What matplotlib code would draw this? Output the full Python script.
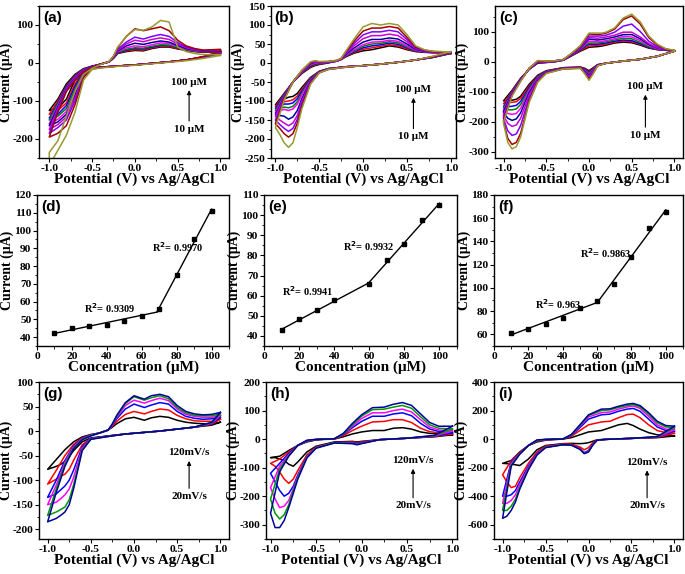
import numpy as np
import matplotlib
matplotlib.use("Agg")
import matplotlib.pyplot as plt
from matplotlib.ticker import AutoMinorLocator, MultipleLocator

plt.rcParams['font.family'] = ['Liberation Serif', 'DejaVu Serif']
plt.rcParams['font.weight'] = 'bold'
plt.rcParams['axes.labelweight'] = 'bold'
plt.rcParams['axes.unicode_minus'] = False

conc_colors = ['#000000', '#ff0000', '#0000ff', '#008000', '#ff00ff',
               '#000099', '#cc00cc', '#8000ff', '#a00000', '#999933']
rate_colors = ['#000000', '#ff0000', '#0000ff', '#ff00ff', '#009900', '#000099']

# ---------------- (a) CV, 10-100 uM ----------------
EU_a = [-1.0, -0.9, -0.8, -0.7, -0.6, -0.5, -0.4, -0.3, -0.25, -0.2, -0.1,
        0.0, 0.1, 0.2, 0.3, 0.4, 0.5, 0.6, 0.7, 0.8, 1.0]
EL_a = [1.0, 0.8, 0.6, 0.4, 0.2, 0.0, -0.2, -0.4, -0.5, -0.6, -0.7, -0.8, -0.9, -1.0]
up_a = [
    [-125, -95, -55, -30, -15, -8, -3, 3, 12, 25, 30, 33, 32, 38, 42, 42, 37, 33, 30, 28, 30],
    [-135, -100, -60, -32, -16, -9, -3, 3, 13, 26, 32, 35, 34, 40, 44, 44, 38, 34, 31, 29, 31],
    [-145, -105, -62, -34, -17, -9, -3, 3, 14, 27, 34, 38, 37, 42, 46, 46, 40, 35, 32, 30, 32],
    [-150, -108, -64, -36, -18, -10, -3, 3, 14, 28, 36, 40, 39, 44, 48, 47, 41, 35, 32, 30, 32],
    [-160, -112, -66, -38, -19, -10, -3, 3, 15, 30, 40, 45, 43, 48, 53, 51, 44, 37, 33, 31, 33],
    [-165, -116, -68, -40, -20, -10, -3, 3, 15, 32, 45, 52, 49, 54, 58, 55, 46, 38, 34, 31, 33],
    [-175, -120, -70, -42, -21, -11, -3, 3, 16, 34, 50, 60, 56, 62, 66, 62, 50, 40, 35, 32, 34],
    [-185, -125, -72, -44, -22, -11, -3, 4, 16, 36, 55, 68, 63, 70, 75, 70, 54, 42, 36, 33, 35],
    [-195, -130, -75, -46, -23, -12, -3, 4, 18, 40, 70, 90, 85, 90, 95, 85, 60, 45, 38, 34, 36],
    [-235, -205, -140, -75, -30, -14, -4, 4, 18, 42, 70, 88, 86, 95, 112, 108, 42, 30, 25, 22, 22],
]
lo_a = [
    [25, 15, 8, 3, -1, -5, -8, -11, -13, -18, -45, -95, -120, -125],
    [26, 15, 8, 3, -1, -5, -8, -11, -13, -20, -55, -105, -125, -135],
    [27, 15, 8, 3, -1, -5, -8, -11, -14, -22, -62, -112, -135, -145],
    [27, 15, 8, 3, -1, -5, -8, -11, -14, -24, -70, -120, -140, -150],
    [28, 16, 8, 3, -1, -5, -8, -11, -14, -26, -78, -128, -148, -160],
    [28, 16, 8, 3, -1, -5, -8, -11, -15, -28, -85, -135, -155, -165],
    [29, 16, 8, 3, -1, -5, -8, -12, -15, -30, -92, -142, -162, -175],
    [30, 16, 8, 3, -1, -5, -8, -12, -15, -33, -100, -150, -170, -185],
    [31, 17, 8, 3, -1, -5, -8, -12, -16, -38, -110, -165, -185, -195],
    [20, 12, 6, 2, -2, -6, -9, -13, -17, -45, -130, -190, -230, -270],
]

# ---------------- (b) CV, 10-100 uM ----------------
EU_b = [-1.0, -0.9, -0.8, -0.7, -0.6, -0.55, -0.5, -0.4, -0.3, -0.25, -0.2, -0.1,
        0.0, 0.1, 0.2, 0.3, 0.4, 0.5, 0.6, 0.7, 0.8, 1.0]
EL_b = [1.0, 0.8, 0.6, 0.4, 0.2, 0.0, -0.2, -0.4, -0.5, -0.6, -0.7, -0.75, -0.8,
        -0.85, -0.9, -0.95, -1.0]
up_b = [
    [-110, -80, -50, -28, -12, -7, -4, 0, 5, 9, 16, 26, 32, 35, 40, 45, 42, 35, 30, 28, 27, 26],
    [-115, -82, -50, -27, -10, -5, -3, 1, 5, 9, 17, 28, 36, 40, 44, 48, 45, 37, 31, 29, 27, 26],
    [-120, -84, -50, -26, -8, -3, -2, 1, 5, 10, 18, 30, 40, 45, 48, 52, 49, 40, 32, 29, 28, 27],
    [-125, -86, -50, -25, -6, -2, -1, 2, 5, 10, 19, 32, 44, 50, 52, 56, 53, 42, 33, 30, 28, 27],
    [-130, -88, -50, -24, -4, 0, 0, 2, 5, 10, 20, 35, 48, 55, 56, 60, 57, 45, 34, 30, 28, 27],
    [-135, -90, -50, -23, -2, 2, 1, 3, 6, 11, 22, 40, 55, 62, 62, 66, 63, 50, 36, 31, 29, 28],
    [-140, -92, -50, -22, 0, 3, 2, 3, 6, 11, 24, 46, 64, 72, 72, 76, 72, 56, 38, 32, 29, 28],
    [-150, -94, -50, -21, 1, 4, 3, 3, 6, 12, 26, 52, 74, 82, 82, 86, 82, 62, 40, 33, 30, 28],
    [-160, -96, -50, -20, 2, 5, 3, 4, 7, 12, 28, 58, 84, 92, 92, 96, 92, 68, 42, 34, 30, 29],
    [-170, -98, -50, -20, 3, 6, 4, 4, 7, 12, 30, 64, 95, 104, 100, 104, 100, 75, 45, 35, 31, 29],
]
lo_b = [
    [25, 15, 8, 2, -3, -7, -10, -15, -22, -38, -65, -80, -88, -90, -95, -105, -110],
    [25, 15, 8, 2, -3, -7, -10, -15, -22, -40, -70, -87, -97, -100, -102, -110, -115],
    [26, 15, 8, 2, -3, -7, -10, -15, -23, -42, -75, -94, -105, -108, -108, -115, -120],
    [26, 15, 8, 2, -3, -7, -10, -15, -23, -44, -80, -102, -114, -118, -116, -120, -125],
    [27, 16, 8, 2, -3, -7, -10, -16, -24, -46, -85, -108, -121, -125, -122, -126, -130],
    [27, 16, 8, 2, -3, -7, -10, -16, -24, -48, -95, -125, -142, -148, -140, -138, -135],
    [28, 16, 8, 2, -3, -7, -10, -16, -25, -50, -102, -138, -158, -165, -158, -150, -140],
    [28, 17, 8, 2, -3, -7, -11, -17, -25, -52, -108, -148, -172, -180, -172, -162, -150],
    [29, 17, 8, 2, -3, -7, -11, -17, -26, -54, -115, -158, -186, -195, -186, -172, -160],
    [30, 18, 8, 2, -3, -7, -11, -17, -26, -56, -122, -170, -210, -222, -210, -188, -170],
]

# ---------------- (c) CV, 10-100 uM ----------------
EU_c = [-1.0, -0.9, -0.8, -0.7, -0.6, -0.5, -0.4, -0.3, -0.2, -0.1, 0.0, 0.1, 0.15,
        0.2, 0.3, 0.4, 0.5, 0.6, 0.7, 0.8, 0.9, 1.0]
EL_c = [1.0, 0.8, 0.6, 0.4, 0.2, 0.1, 0.05, 0.0, -0.05, -0.1, -0.3, -0.5, -0.6,
        -0.7, -0.8, -0.85, -0.9, -0.95, -1.0]
up_c = [
    [-130, -95, -55, -25, -5, -3, 0, 5, 20, 35, 48, 50, 52, 55, 62, 65, 63, 55, 45, 40, 38, 35],
    [-140, -98, -57, -25, -4, -2, 0, 5, 21, 37, 52, 54, 56, 58, 65, 68, 66, 58, 47, 40, 38, 35],
    [-150, -100, -58, -25, -3, -2, 0, 5, 22, 40, 58, 58, 60, 62, 68, 72, 70, 60, 48, 41, 38, 35],
    [-155, -102, -59, -24, -2, -1, 1, 6, 23, 42, 62, 62, 64, 66, 72, 78, 76, 64, 50, 42, 38, 36],
    [-160, -104, -60, -24, -1, -1, 1, 6, 24, 44, 68, 66, 68, 70, 76, 84, 82, 70, 54, 43, 39, 36],
    [-165, -106, -61, -23, 0, 0, 2, 6, 25, 46, 75, 72, 74, 76, 82, 90, 90, 76, 57, 45, 39, 36],
    [-175, -108, -62, -23, 1, 0, 2, 6, 26, 48, 80, 78, 80, 82, 88, 98, 98, 82, 60, 46, 40, 37],
    [-185, -110, -63, -22, 2, 1, 3, 7, 27, 50, 85, 85, 86, 88, 98, 118, 125, 100, 68, 50, 41, 37],
    [-195, -112, -64, -22, 3, 1, 3, 7, 28, 52, 92, 90, 92, 95, 108, 140, 152, 125, 80, 55, 42, 37],
    [-200, -114, -65, -22, 4, 2, 3, 7, 29, 54, 95, 95, 95, 98, 112, 145, 158, 132, 85, 58, 43, 38],
]
lo_c = [
    [35, 18, 8, 2, -5, -10, -20, -30, -22, -18, -20, -30, -45, -75, -115, -125, -128, -130, -130],
    [35, 18, 8, 2, -5, -10, -22, -33, -24, -18, -20, -31, -48, -80, -122, -133, -135, -135, -140],
    [35, 18, 8, 2, -5, -11, -24, -36, -26, -19, -21, -32, -50, -85, -132, -145, -148, -150, -150],
    [35, 18, 8, 2, -5, -11, -26, -39, -28, -19, -21, -33, -52, -90, -142, -157, -160, -160, -155],
    [35, 18, 8, 2, -5, -12, -28, -42, -30, -20, -22, -34, -55, -95, -155, -172, -175, -172, -165],
    [35, 18, 8, 2, -5, -12, -30, -45, -32, -20, -22, -35, -58, -102, -170, -190, -195, -188, -170],
    [35, 18, 8, 2, -5, -13, -32, -49, -34, -21, -23, -36, -60, -110, -188, -210, -215, -205, -180],
    [35, 18, 8, 2, -5, -13, -35, -53, -36, -21, -23, -37, -63, -120, -212, -240, -245, -230, -190],
    [35, 18, 8, 2, -5, -14, -38, -58, -38, -22, -24, -38, -66, -130, -238, -268, -275, -255, -200],
    [35, 18, 8, 2, -5, -14, -40, -62, -40, -22, -24, -39, -68, -135, -250, -282, -290, -268, -205],
]

# ---------------- (d)-(f) calibration ----------------
conc_d = [10, 20, 30, 40, 50, 60, 70, 80, 90, 100]
peak_d = [42.5, 45.0, 46.0, 47.0, 49.3, 51.7, 56.0, 75.0, 95.0, 111.0]
conc_e = [10, 20, 30, 40, 60, 70, 80, 90, 100]
peak_e = [42.7, 48.3, 52.7, 57.8, 66.0, 77.5, 85.5, 97.5, 105.0]
conc_f = [10, 20, 30, 40, 50, 60, 70, 80, 90, 100]
peak_f = [61.5, 65.0, 69.0, 74.0, 82.5, 89.0, 103.5, 127.0, 151.5, 165.0]

# ---------------- (g) CV, 20-120 mV/s ----------------
EU_g = [-1.0, -0.9, -0.8, -0.7, -0.6, -0.5, -0.4, -0.3, -0.25, -0.2, -0.1, 0.0,
        0.12, 0.2, 0.3, 0.4, 0.5, 0.6, 0.7, 0.8, 0.9, 1.0]
EL_g = [1.0, 0.9, 0.7, 0.5, 0.3, 0.1, -0.1, -0.3, -0.5, -0.6, -0.7, -0.75, -0.8,
        -0.85, -0.9, -1.0]
up_g = [
    [-78, -58, -38, -22, -12, -7, -4, 2, 8, 15, 25, 28, 22, 27, 30, 28, 22, 18, 16, 15, 15, 18],
    [-108, -80, -50, -27, -14, -8, -4, 2, 10, 20, 34, 40, 35, 40, 45, 43, 32, 25, 21, 20, 20, 24],
    [-135, -100, -60, -30, -15, -8, -4, 2, 12, 25, 45, 55, 48, 53, 58, 55, 40, 30, 26, 24, 25, 28],
    [-150, -110, -64, -32, -16, -9, -4, 2, 13, 28, 52, 63, 57, 62, 67, 62, 45, 34, 30, 28, 28, 32],
    [-172, -118, -68, -34, -17, -9, -4, 2, 14, 30, 56, 70, 63, 68, 72, 66, 48, 37, 32, 31, 31, 35],
    [-185, -125, -72, -36, -18, -10, -4, 2, 15, 32, 58, 72, 65, 72, 75, 70, 52, 40, 35, 33, 34, 38],
]
lo_g = [
    [18, 12, 8, 4, 0, -3, -6, -10, -14, -22, -40, -52, -62, -68, -72, -78],
    [24, 14, 8, 4, 0, -3, -6, -10, -15, -28, -60, -78, -88, -92, -98, -108],
    [28, 15, 8, 4, 0, -3, -6, -10, -15, -32, -80, -100, -112, -120, -128, -135],
    [32, 16, 8, 4, 0, -3, -6, -11, -16, -35, -95, -118, -130, -138, -145, -150],
    [35, 17, 8, 4, 0, -3, -6, -11, -16, -38, -110, -140, -155, -160, -165, -172],
    [38, 18, 8, 4, 0, -3, -6, -11, -17, -40, -118, -150, -165, -172, -178, -185],
]

# ---------------- (h) CV, 20-120 mV/s ----------------
EU_h = [-1.0, -0.9, -0.8, -0.7, -0.6, -0.5, -0.4, -0.3, -0.2, -0.1, 0.0, 0.12,
        0.25, 0.35, 0.45, 0.55, 0.65, 0.75, 0.85, 1.0]
EL_h = [1.0, 0.8, 0.5, 0.2, 0.0, -0.05, -0.1, -0.3, -0.5, -0.6, -0.7, -0.75,
        -0.8, -0.85, -0.9, -0.95, -1.0]
up_h = [
    [-65, -60, -40, -22, -10, -3, -1, 0, 8, 18, 25, 30, 30, 38, 40, 35, 25, 20, 18, 15],
    [-85, -70, -45, -22, -8, -2, 0, 0, 12, 30, 45, 60, 62, 68, 68, 58, 38, 26, 22, 18],
    [-120, -85, -50, -22, -7, -2, 0, 1, 15, 40, 62, 80, 80, 88, 92, 82, 55, 35, 27, 22],
    [-170, -95, -55, -22, -6, -1, 0, 1, 17, 45, 72, 92, 92, 100, 105, 95, 68, 42, 32, 28],
    [-210, -105, -58, -22, -5, -1, 0, 1, 18, 50, 80, 103, 105, 112, 118, 108, 78, 50, 38, 35],
    [-260, -115, -60, -22, -4, -1, 0, 1, 20, 55, 85, 110, 112, 122, 128, 118, 88, 58, 45, 45],
]
lo_h = [
    [15, 8, 3, -2, -8, -10, -8, -10, -25, -45, -80, -95, -88, -75, -70, -65, -65],
    [18, 9, 3, -2, -10, -12, -10, -12, -28, -55, -110, -140, -155, -140, -115, -95, -85],
    [22, 10, 3, -2, -12, -15, -12, -12, -30, -60, -125, -165, -190, -200, -180, -150, -120],
    [28, 11, 3, -2, -14, -17, -14, -13, -30, -62, -130, -175, -215, -235, -240, -210, -170],
    [35, 12, 3, -2, -15, -18, -15, -13, -31, -64, -135, -182, -230, -265, -280, -260, -210],
    [45, 13, 3, -2, -16, -20, -16, -14, -32, -66, -140, -190, -240, -285, -310, -310, -260],
]

# ---------------- (i) CV, 20-120 mV/s ----------------
EU_i = [-1.0, -0.9, -0.8, -0.7, -0.6, -0.5, -0.4, -0.3, -0.2, -0.1, 0.0, 0.15,
        0.25, 0.35, 0.45, 0.52, 0.6, 0.7, 0.8, 0.9, 1.0]
EL_i = [1.0, 0.8, 0.5, 0.2, 0.1, 0.05, 0.0, -0.05, -0.1, -0.2, -0.3, -0.5, -0.6,
        -0.7, -0.8, -0.85, -0.9, -0.95, -1.0]
up_i = [
    [-170, -150, -90, -45, -20, -8, -3, 0, 10, 30, 50, 60, 80, 100, 110, 95, 70, 45, 30, 25, 22],
    [-250, -150, -95, -45, -15, -5, -2, 0, 20, 60, 100, 120, 125, 150, 172, 175, 150, 100, 60, 45, 40],
    [-400, -160, -100, -45, -12, -4, -2, 0, 25, 80, 140, 170, 175, 195, 210, 215, 195, 140, 85, 60, 55],
    [-450, -170, -102, -45, -10, -3, -1, 0, 28, 90, 155, 185, 190, 210, 225, 232, 215, 160, 100, 70, 65],
    [-500, -180, -104, -45, -8, -2, -1, 0, 30, 95, 165, 200, 205, 222, 235, 242, 225, 175, 115, 85, 80],
    [-555, -190, -106, -45, -6, -2, 0, 0, 32, 100, 170, 210, 212, 230, 245, 250, 235, 185, 125, 95, 90],
]
lo_i = [
    [22, 10, 5, -2, -5, -15, -25, -30, -32, -30, -32, -45, -75, -140, -185, -180, -175, -172, -170],
    [40, 12, 5, -2, -6, -25, -60, -75, -55, -35, -35, -50, -90, -170, -270, -330, -340, -300, -250],
    [55, 14, 5, -2, -8, -35, -80, -95, -65, -40, -38, -55, -100, -190, -300, -360, -390, -400, -400],
    [65, 15, 5, -2, -8, -38, -85, -98, -68, -40, -38, -56, -105, -200, -320, -390, -430, -450, -450],
    [80, 16, 5, -2, -8, -40, -88, -100, -70, -42, -40, -58, -110, -210, -340, -420, -470, -500, -500],
    [90, 17, 5, -2, -8, -42, -90, -102, -72, -42, -40, -60, -112, -215, -350, -440, -500, -540, -555],
]

TICK = 8.2
W, H = 685, 574


def style(ax, letter, xlab, ylim, ymajor, xlim, xmajor, ylab_px=None):
    ax.set_xlim(*xlim)
    ax.set_ylim(*ylim)
    ax.xaxis.set_major_locator(MultipleLocator(xmajor))
    ax.yaxis.set_major_locator(MultipleLocator(ymajor))
    ax.xaxis.set_minor_locator(AutoMinorLocator(2))
    ax.yaxis.set_minor_locator(AutoMinorLocator(2))
    ax.tick_params(which='major', direction='out', length=3, width=0.8,
                   labelsize=TICK, pad=1.0)
    ax.tick_params(which='minor', direction='out', length=1.8, width=0.6)
    ax.tick_params(top=False, right=False)
    for s in ax.spines.values():
        s.set_linewidth(1.0)
    ax.set_xlabel(xlab, fontsize=11, labelpad=0)
    ax.set_ylabel('Current (μA)', fontsize=10, labelpad=0)
    if ylab_px is not None:
        # right edge of the rotated label at a fixed pixel column
        x0 = ax.get_position().x0 * W
        w = ax.get_position().width * W
        ax.yaxis.set_label_coords((ylab_px - x0) / w, 0.5)
    ax.text(0.02, 0.97, letter, transform=ax.transAxes, ha='left', va='top',
            fontsize=11, fontweight='bold', family='Liberation Sans')


def draw_cv(ax, EU, EL, ups, los, colors):
    for up, lo, c in zip(ups, los, colors):
        xs = list(EL) + list(EU) + [EL[0]]
        ys = list(lo) + list(up) + [lo[0]]
        ax.plot(xs, ys, color=c, lw=1.1, solid_joinstyle='round')


def arrow_note(ax, x, y_top, y_bot, top_txt, bot_txt):
    ax.annotate('', xy=(x, y_top + 0.045), xytext=(x, y_bot - 0.045),
                xycoords='axes fraction',
                arrowprops=dict(arrowstyle='-|>', color='black', lw=0.8,
                                mutation_scale=6))
    ax.text(x, y_top + 0.05, top_txt, transform=ax.transAxes, ha='center',
            va='bottom', fontsize=8)
    ax.text(x, y_bot - 0.05, bot_txt, transform=ax.transAxes, ha='center',
            va='top', fontsize=8)


def draw_cal(ax, conc, peak, split):
    ax.plot(conc, peak, 's', color='black', ms=3.2)
    c = np.array(conc, float)
    p = np.array(peak, float)
    k1 = np.polyfit(c[c <= split], p[c <= split], 1)
    k2 = np.polyfit(c[c >= split], p[c >= split], 1)
    xj = (k2[1] - k1[1]) / (k1[0] - k2[0])
    ax.plot([c[0], xj], np.polyval(k1, [c[0], xj]), color='black', lw=1.0)
    ax.plot([xj, c[-1]], np.polyval(k2, [xj, c[-1]]), color='black', lw=1.0)


fig = plt.figure(figsize=(W / 100, H / 100), dpi=100)


def add_axes(left, right, top, bottom):
    return fig.add_axes([left / W, 1 - bottom / H, (right - left) / W, (bottom - top) / H])


xl = 'Potential (V) vs Ag/AgCl'
cl = 'Concentration (μM)'

ax_a = add_axes(39, 229, 6, 158)
draw_cv(ax_a, EU_a, EL_a, up_a, lo_a, conc_colors)
style(ax_a, '(a)', xl, (-250, 150), 100, (-1.12, 1.1), 0.5, ylab_px=13)
arrow_note(ax_a, 0.79, 0.42, 0.27, '100 μM', '10 μM')

ax_b = add_axes(271, 456, 6, 158)
draw_cv(ax_b, EU_b, EL_b, up_b, lo_b, conc_colors)
style(ax_b, '(b)', xl, (-250, 150), 50, (-1.05, 1.06), 0.5)
arrow_note(ax_b, 0.77, 0.37, 0.22, '100 μM', '10 μM')

ax_c = add_axes(495, 683, 6, 158)
draw_cv(ax_c, EU_c, EL_c, up_c, lo_c, conc_colors)
style(ax_c, '(c)', xl, (-320, 185), 100, (-1.1, 1.1), 0.5)
arrow_note(ax_c, 0.8, 0.39, 0.23, '100 μM', '10 μM')

ax_d = add_axes(37, 229, 195, 346)
draw_cal(ax_d, conc_d, peak_d, 70)
style(ax_d, '(d)', cl, (35, 120), 10, (0, 110), 20, ylab_px=14)
ax_d.text(27, 53.5, 'R$^{\\mathbf{2}}$= 0.9309', fontsize=7.5)
ax_d.text(66, 88, 'R$^{\\mathbf{2}}$= 0.9970', fontsize=7.5)

ax_e = add_axes(264, 457, 195, 346)
draw_cal(ax_e, conc_e, peak_e, 60)
style(ax_e, '(e)', cl, (35, 110), 10, (0, 110), 20)
ax_e.text(10, 60, 'R$^{\\mathbf{2}}$= 0.9941', fontsize=7.5)
ax_e.text(45, 82, 'R$^{\\mathbf{2}}$= 0.9932', fontsize=7.5)

ax_f = add_axes(494, 683, 195, 346)
draw_cal(ax_f, conc_f, peak_f, 60)
style(ax_f, '(f)', cl, (50, 180), 20, (0, 110), 20)
ax_f.text(24, 82, 'R$^{\\mathbf{2}}$= 0.963', fontsize=7.5)
ax_f.text(50, 126, 'R$^{\\mathbf{2}}$= 0.9863', fontsize=7.5)

ax_g = add_axes(39, 229, 382, 539)
draw_cv(ax_g, EU_g, EL_g, up_g, lo_g, rate_colors)
style(ax_g, '(g)', xl, (-220, 100), 50, (-1.1, 1.1), 0.5, ylab_px=13)
arrow_note(ax_g, 0.79, 0.47, 0.35, '120mV/s', '20mV/s')

ax_h = add_axes(266, 457, 382, 539)
draw_cv(ax_h, EU_h, EL_h, up_h, lo_h, rate_colors)
style(ax_h, '(h)', xl, (-350, 200), 100, (-1.05, 1.05), 0.5)
arrow_note(ax_h, 0.77, 0.42, 0.29, '120mV/s', '20mV/s')

ax_i = add_axes(494, 683, 382, 539)
draw_cv(ax_i, EU_i, EL_i, up_i, lo_i, rate_colors)
style(ax_i, '(i)', xl, (-700, 400), 200, (-1.1, 1.1), 0.5)
arrow_note(ax_i, 0.81, 0.41, 0.29, '120mV/s', '20mV/s')

fig.savefig('out.png', dpi=100)
